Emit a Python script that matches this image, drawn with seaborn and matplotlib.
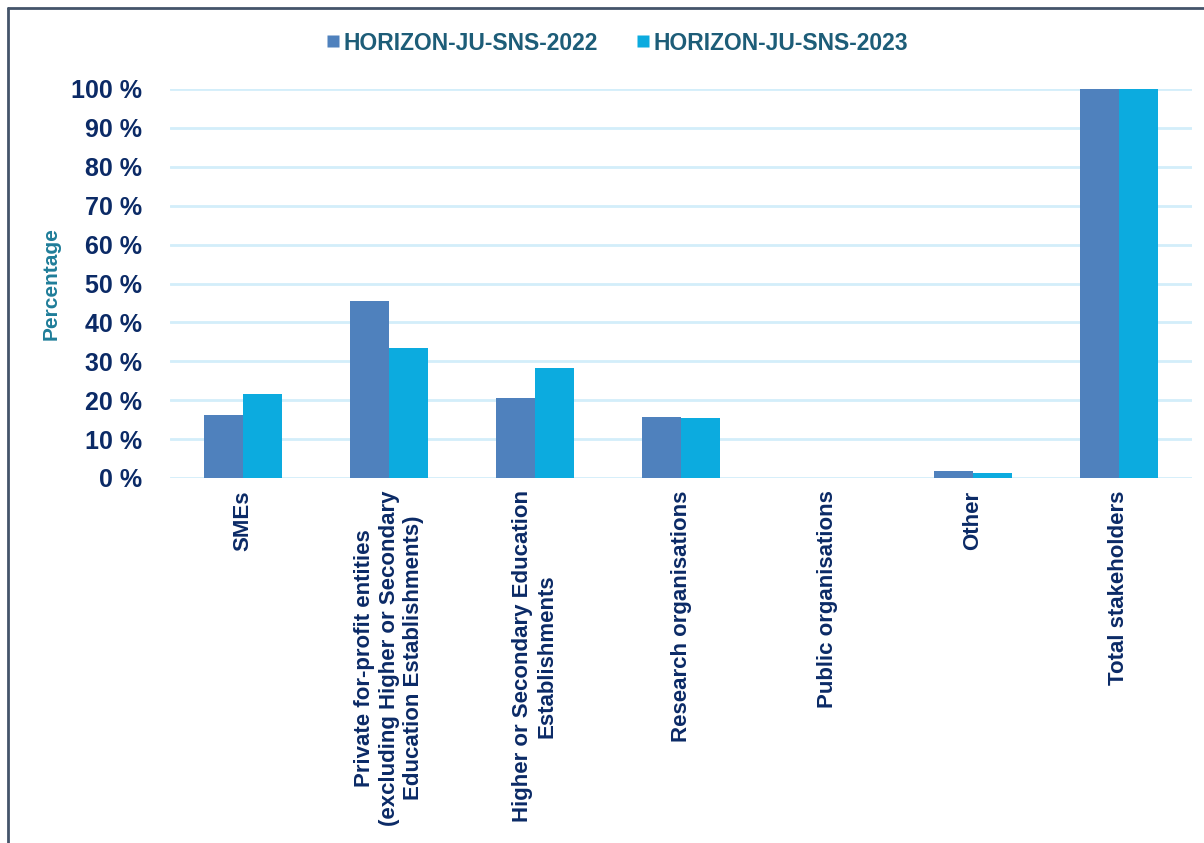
import matplotlib
matplotlib.use("Agg")
import matplotlib.pyplot as plt
from matplotlib.lines import Line2D
import seaborn as sns
import pandas as pd

categories = [
    "SMEs",
    "Private for-profit entities\n(excluding Higher or Secondary\nEducation Establishments)",
    "Higher or Secondary Education\nEstablishments",
    "Research organisations",
    "Public organisations",
    "Other",
    "Total stakeholders",
]
series_names = ["HORIZON-JU-SNS-2022", "HORIZON-JU-SNS-2023"]
values_2022 = [16.3, 45.6, 20.5, 15.8, 0.0, 1.8, 100.0]
values_2023 = [21.6, 33.3, 28.3, 15.5, 0.0, 1.2, 100.0]
yticks = [0, 10, 20, 30, 40, 50, 60, 70, 80, 90, 100]
ytick_labels = [f"{v} %" for v in yticks]

colors = ["#4f81bd", "#0cabdf"]
navy = "#0b2a66"
teal = "#1f7d99"
legend_color = "#1d5d78"
grid_color = "#d3eefa"

df = pd.DataFrame({
    "category": categories * 2,
    "value": values_2022 + values_2023,
    "series": [series_names[0]] * len(categories) + [series_names[1]] * len(categories),
})

sns.set_theme(style="white")
plt.rcParams["font.family"] = ["Liberation Sans", "DejaVu Sans"]

fig = plt.figure(figsize=(12.04, 8.43), dpi=100)
ax = fig.add_axes([170 / 1204, 1 - 478 / 843, (1192 - 170) / 1204, (478 - 89) / 843])

sns.barplot(data=df, x="category", y="value", hue="series", palette=colors,
            width=0.53, gap=0, ax=ax, legend=False, edgecolor="none",
            errorbar=None, saturation=1)

ax.set_ylim(0, 100)
ax.set_xlim(-0.5, len(categories) - 0.5)
ax.set_yticks(yticks)
ax.set_yticklabels(ytick_labels, fontsize=18, fontweight="bold", color=navy)
ax.tick_params(axis="y", length=0, pad=20)
ax.tick_params(axis="x", length=0, pad=9)
ax.set_xticks(range(len(categories)))
ax.set_xticklabels(categories, rotation=90, fontsize=16, fontweight="bold",
                   color=navy, ha="center", va="top", multialignment="center")
for sp in ax.spines.values():
    sp.set_visible(False)
ax.yaxis.grid(True, color=grid_color, linewidth=2)
ax.xaxis.grid(False)
ax.set_axisbelow(True)
ax.set_xlabel("")
ax.set_ylabel("Percentage", fontsize=15, fontweight="bold", color=teal)
ax.yaxis.set_label_coords(-(170 - 61) / 1022, 0.5)

handles = [Line2D([0], [0], marker="s", linestyle="none", markersize=8,
                  markerfacecolor=c, markeredgecolor="none") for c in colors]
leg = fig.legend(handles, series_names, loc="center", bbox_to_anchor=(609 / 1204, 1 - 43 / 843),
                 ncol=2, frameon=False, handletextpad=-0.55, columnspacing=1.0,
                 prop={"size": 16.5, "weight": "bold"})
for t in leg.get_texts():
    t.set_color(legend_color)

border = "#44546a"
fig.add_artist(Line2D([8 / 1204, 8 / 1204], [0, 1 - 8 / 843], transform=fig.transFigure,
                      color=border, linewidth=2))
fig.add_artist(Line2D([8 / 1204, 1], [1 - 8 / 843, 1 - 8 / 843], transform=fig.transFigure,
                      color=border, linewidth=2))

fig.savefig("out.png", dpi=100, facecolor="white")
